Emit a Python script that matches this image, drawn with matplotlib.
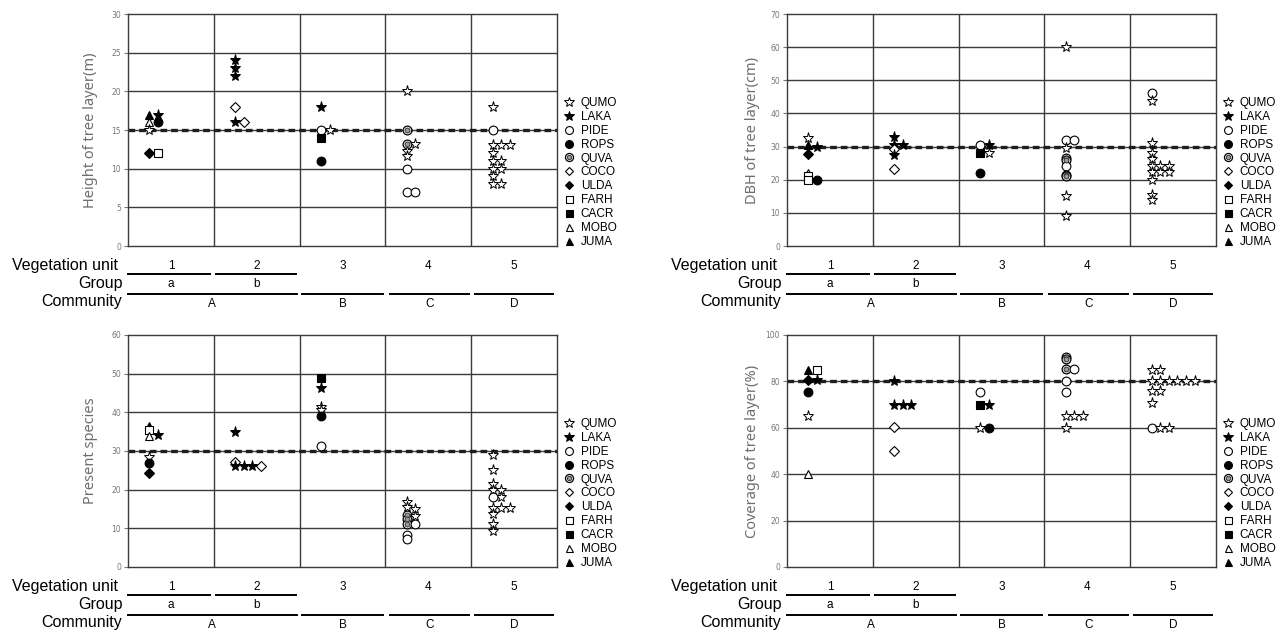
import matplotlib
matplotlib.use("Agg")
import matplotlib.pyplot as plt
from matplotlib.lines import Line2D
from matplotlib.legend_handler import HandlerTuple

# ---------------- data ----------------
species = ["QUMO", "LAKA", "PIDE", "ROPS", "QUVA", "COCO", "ULDA", "FARH", "CACR", "MOBO", "JUMA"]
units = ["1", "2", "3", "4", "5"]
groups = ["a", "b"]
communities = ["A", "B", "C", "D"]

# (species, vegetation unit, slot within unit, value)
height_points = [
    ("JUMA", 1, 0, 17), ("LAKA", 1, 1, 17), ("MOBO", 1, 0, 16), ("ROPS", 1, 1, 16),
    ("QUMO", 1, 0, 15), ("ULDA", 1, 0, 12), ("FARH", 1, 1, 12),
    ("LAKA", 2, 0, 24), ("LAKA", 2, 0, 23), ("LAKA", 2, 0, 22), ("COCO", 2, 0, 18),
    ("LAKA", 2, 0, 16), ("COCO", 2, 1, 16),
    ("LAKA", 3, 0, 18), ("PIDE", 3, 0, 15), ("QUMO", 3, 1, 15), ("CACR", 3, 0, 14), ("ROPS", 3, 0, 11),
    ("QUMO", 4, 0, 20), ("QUVA", 4, 0, 15), ("QUVA", 4, 0, 13.2), ("QUMO", 4, 1, 13.2),
    ("QUMO", 4, 0, 12.3), ("QUMO", 4, 0, 11.6), ("PIDE", 4, 0, 10), ("PIDE", 4, 0, 7), ("PIDE", 4, 1, 7),
    ("QUMO", 5, 0, 18), ("PIDE", 5, 0, 15), ("QUMO", 5, 0, 13), ("QUMO", 5, 1, 13), ("QUMO", 5, 2, 13),
    ("QUMO", 5, 0, 12), ("QUMO", 5, 0, 11), ("QUMO", 5, 1, 11), ("QUMO", 5, 0, 10), ("QUMO", 5, 1, 10),
    ("QUMO", 5, 0, 9), ("QUMO", 5, 0, 8), ("QUMO", 5, 1, 8),
]
dbh_points = [
    ("QUMO", 1, 0, 32.5), ("JUMA", 1, 0, 30.5), ("LAKA", 1, 1, 30), ("ULDA", 1, 0, 27.7),
    ("MOBO", 1, 0, 22), ("FARH", 1, 0, 21), ("FARH", 1, 0, 20), ("ROPS", 1, 1, 20),
    ("LAKA", 2, 0, 33), ("LAKA", 2, 0, 30.5), ("LAKA", 2, 1, 30.5), ("COCO", 2, 0, 29.2),
    ("LAKA", 2, 0, 27.5), ("COCO", 2, 0, 23.2),
    ("PIDE", 3, 0, 30.5), ("LAKA", 3, 1, 30.5), ("CACR", 3, 0, 28), ("QUMO", 3, 1, 28), ("ROPS", 3, 0, 22),
    ("QUMO", 4, 0, 60), ("PIDE", 4, 0, 32), ("PIDE", 4, 1, 32), ("QUMO", 4, 0, 29.5),
    ("QUVA", 4, 0, 26.5), ("QUVA", 4, 0, 25.8), ("PIDE", 4, 0, 24.2), ("QUVA", 4, 0, 21.5),
    ("QUVA", 4, 0, 21), ("QUMO", 4, 0, 15.2), ("QUMO", 4, 0, 9.2),
    ("PIDE", 5, 0, 46.3), ("QUMO", 5, 0, 43.7), ("QUMO", 5, 0, 31), ("QUMO", 5, 0, 28),
    ("QUMO", 5, 0, 26.3), ("QUMO", 5, 0, 24.2), ("QUMO", 5, 1, 24.2), ("QUMO", 5, 2, 24.2),
    ("QUMO", 5, 0, 22.3), ("QUMO", 5, 1, 22.3), ("QUMO", 5, 2, 22.3), ("QUMO", 5, 0, 20),
    ("QUMO", 5, 0, 15.5), ("QUMO", 5, 0, 14),
]
species_points = [
    ("JUMA", 1, 0, 36.5), ("FARH", 1, 0, 35.5), ("MOBO", 1, 0, 34), ("LAKA", 1, 1, 34.2),
    ("QUMO", 1, 0, 28.5), ("ROPS", 1, 0, 27), ("ULDA", 1, 0, 24.2),
    ("LAKA", 2, 0, 35), ("COCO", 2, 0, 27.2), ("LAKA", 2, 0, 26), ("LAKA", 2, 1, 26),
    ("LAKA", 2, 2, 26), ("COCO", 2, 3, 26),
    ("CACR", 3, 0, 49), ("LAKA", 3, 0, 46.4), ("QUMO", 3, 0, 41.5), ("QUMO", 3, 0, 40.5),
    ("ROPS", 3, 0, 39.1), ("PIDE", 3, 0, 31.2),
    ("QUMO", 4, 0, 16.7), ("QUMO", 4, 0, 15.5), ("QUMO", 4, 1, 15), ("QUVA", 4, 0, 13.5),
    ("QUMO", 4, 1, 13.2), ("QUVA", 4, 0, 12.3), ("QUVA", 4, 0, 11), ("PIDE", 4, 1, 11),
    ("PIDE", 4, 0, 8.3), ("PIDE", 4, 0, 7.2),
    ("QUMO", 5, 0, 29), ("QUMO", 5, 0, 25.2), ("QUMO", 5, 0, 21.5), ("QUMO", 5, 0, 20),
    ("QUMO", 5, 1, 20), ("QUMO", 5, 1, 18.2), ("PIDE", 5, 0, 18), ("QUMO", 5, 0, 15.3),
    ("QUMO", 5, 1, 15.3), ("QUMO", 5, 2, 15.3), ("QUMO", 5, 0, 13.8), ("QUMO", 5, 0, 11.2),
    ("QUMO", 5, 0, 9.2),
]
coverage_points = [
    ("JUMA", 1, 0, 85), ("FARH", 1, 1, 85), ("ULDA", 1, 0, 80.5), ("LAKA", 1, 1, 80.5),
    ("ROPS", 1, 0, 75.3), ("QUMO", 1, 0, 65), ("MOBO", 1, 0, 40),
    ("LAKA", 2, 0, 80), ("LAKA", 2, 0, 70), ("LAKA", 2, 1, 70), ("LAKA", 2, 2, 70),
    ("COCO", 2, 0, 60.3), ("COCO", 2, 0, 50),
    ("PIDE", 3, 0, 75.3), ("CACR", 3, 0, 70), ("LAKA", 3, 1, 70), ("QUMO", 3, 0, 60), ("ROPS", 3, 1, 60),
    ("QUVA", 4, 0, 90.5), ("QUVA", 4, 0, 89.5), ("QUVA", 4, 0, 85.3), ("PIDE", 4, 1, 85.3),
    ("PIDE", 4, 0, 80), ("PIDE", 4, 0, 75.3), ("QUMO", 4, 0, 65), ("QUMO", 4, 1, 65),
    ("QUMO", 4, 2, 65), ("QUMO", 4, 0, 60),
    ("QUMO", 5, 0, 85), ("QUMO", 5, 1, 85),
    ("QUMO", 5, 0, 80), ("QUMO", 5, 1, 80), ("QUMO", 5, 2, 80), ("QUMO", 5, 3, 80),
    ("QUMO", 5, 4, 80), ("QUMO", 5, 5, 80),
    ("QUMO", 5, 0, 75.7), ("QUMO", 5, 1, 75.7), ("QUMO", 5, 0, 70.7),
    ("PIDE", 5, 0, 60), ("QUMO", 5, 1, 60), ("QUMO", 5, 2, 60),
]

panel_titles = ["Height of tree layer(m)", "DBH of tree layer(cm)", "Present species", "Coverage of tree layer(%)"]
panel_ymax = [30, 70, 60, 100]
panel_ystep = [5, 10, 10, 20]
panel_mean = [15, 30, 30, 80]
panel_points = [height_points, dbh_points, species_points, coverage_points]

# ---------------- styles ----------------
W, H = 1277, 632
fig = plt.figure(figsize=(W / 100, H / 100), dpi=100)
fig.patch.set_facecolor("white")

GRID = "#3a3a3a"
styles = {
    "QUMO": dict(marker="*", ms=8.0, mfc="white", mec="black", mew=0.7),
    "LAKA": dict(marker="*", ms=8.0, mfc="black", mec="black", mew=0.7),
    "PIDE": dict(marker="o", ms=6.3, mfc="white", mec="black", mew=0.8),
    "ROPS": dict(marker="o", ms=6.3, mfc="black", mec="black", mew=0.8),
    "COCO": dict(marker="D", ms=5.0, mfc="white", mec="black", mew=0.8),
    "ULDA": dict(marker="D", ms=5.0, mfc="black", mec="black", mew=0.8),
    "FARH": dict(marker="s", ms=5.6, mfc="white", mec="black", mew=0.8),
    "CACR": dict(marker="s", ms=5.6, mfc="black", mec="black", mew=0.8),
    "MOBO": dict(marker="^", ms=5.6, mfc="white", mec="black", mew=0.8),
    "JUMA": dict(marker="^", ms=5.6, mfc="black", mec="black", mew=0.8),
}
quva_outer = dict(marker="o", ms=6.3, mfc="white", mec="black", mew=0.9)
quva_inner = dict(marker="o", ms=3.5, mfc="#9a9a9a", mec="#333333", mew=0.7)

FONT = "Liberation Sans"

# axes geometry in pixels: (left, top)
ax_w, ax_h = 429, 232
positions = [(128, 14), (787, 14), (128, 335), (787, 335)]
ylabel_off = [30, 27, 30, 27]


def to_x(unit, slot):
    return (unit - 1) + 0.25 + 0.1 * slot


def legend_handles():
    hs = []
    for sp in species:
        if sp == "QUVA":
            o = dict(quva_outer, ms=5.8)
            n = dict(quva_inner, ms=3.2)
            h = (Line2D([], [], ls="none", **o), Line2D([], [], ls="none", **n))
        else:
            st = dict(styles[sp])
            st["ms"] = st["ms"] * 0.9
            h = Line2D([], [], ls="none", **st)
        hs.append(h)
    return hs


for i in range(4):
    left, top = positions[i]
    ax = fig.add_axes([left / W, 1 - (top + ax_h) / H, ax_w / W, ax_h / H])
    ymax, step = panel_ymax[i], panel_ystep[i]
    ax.set_xlim(0, 5)
    ax.set_ylim(0, ymax)
    ax.set_xticks([])
    ax.set_yticks(range(0, ymax + 1, step))
    ax.tick_params(axis="y", length=3, width=0.8, color="#777777", labelsize=5.5,
                   labelcolor="#777777", pad=2)
    for s in ax.spines.values():
        s.set_color(GRID)
        s.set_linewidth(1.0)
    for yv in range(step, ymax, step):
        ax.axhline(yv, color=GRID, lw=1.0, zorder=1)
    for xv in range(1, 5):
        ax.axvline(xv, color=GRID, lw=1.0, zorder=1)
    ax.axhline(panel_mean[i], color="#1e1e1e", lw=2.4, ls=(0, (2.0, 1.2)), zorder=2)

    for sp, unit, slot, val in panel_points[i]:
        x = to_x(unit, slot)
        if sp == "QUVA":
            ax.plot([x], [val], ls="none", zorder=3, **quva_outer, clip_on=False)
            ax.plot([x], [val], ls="none", zorder=4, **quva_inner, clip_on=False)
        else:
            ax.plot([x], [val], ls="none", zorder=3, **styles[sp], clip_on=False)

    ax.set_ylabel(panel_titles[i], fontsize=10.5, color="#6e6e6e", family="Noto Sans")
    ax.yaxis.set_label_coords(-ylabel_off[i] / ax_w, 0.5)

    ax.legend(legend_handles(), species, loc="lower left", bbox_to_anchor=(1.018, -0.008),
              frameon=False, handlelength=0.8, handletextpad=0.55,
              labelspacing=0.16, borderpad=0, borderaxespad=0,
              prop={"family": FONT, "size": 8.5},
              handler_map={tuple: HandlerTuple(ndivide=1)})

    # ---- classification rows below the panel ----
    tr = ax.get_xaxis_transform()
    py = lambda px: -px / ax_h
    for k, u in enumerate(units):
        ax.text(k + 0.5, py(19.5), u, transform=tr, ha="center", va="center",
                fontsize=8.5, family=FONT, clip_on=False)
    for k in range(2):
        ax.add_line(Line2D([k + (0.0 if k == 0 else 0.03), k + 0.96], [py(28), py(28)],
                           transform=tr, color="black", lw=1.4, clip_on=False))
        ax.text(k + 0.5, py(37.5), groups[k], transform=tr, ha="center", va="center",
                fontsize=8.5, family=FONT, clip_on=False)
    comm_spans = [(0.0, 1.97, 0.98), (2.03, 2.97, 2.5), (3.05, 3.98, 3.52), (4.05, 4.95, 4.5)]
    for (x0, x1, xc), c in zip(comm_spans, communities):
        ax.add_line(Line2D([x0, x1], [py(48), py(48)], transform=tr, color="black",
                           lw=1.4, clip_on=False))
        ax.text(xc, py(58), c, transform=tr, ha="center", va="center",
                fontsize=8.5, family=FONT, clip_on=False)
    ax.text(-10 / ax_w, py(19.5), "Vegetation unit", transform=ax.transAxes, ha="right",
            va="center", fontsize=11.5, family=FONT, clip_on=False)
    ax.text(-5 / ax_w, py(37.5), "Group", transform=ax.transAxes, ha="right",
            va="center", fontsize=11.5, family=FONT, clip_on=False)
    ax.text(-6 / ax_w, py(55), "Community", transform=ax.transAxes, ha="right",
            va="center", fontsize=11.5, family=FONT, clip_on=False)

fig.savefig("out.png", dpi=100, facecolor="white")
